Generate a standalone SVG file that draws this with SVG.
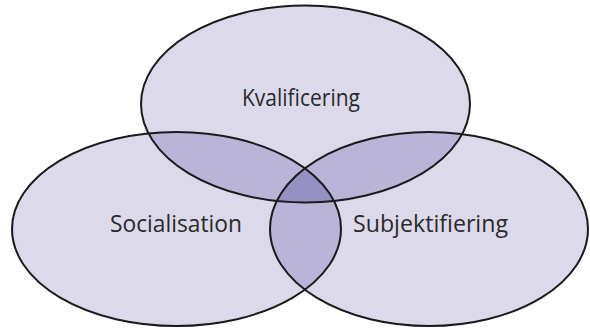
<svg xmlns="http://www.w3.org/2000/svg" width="590" height="328" viewBox="0 0 590 328">
<style>
.base{fill:#dcd9ea}
.two{fill:#bab5d8}
.three{fill:#9591c3}
.edge{fill:none;stroke:#1a1a1a;stroke-width:2}
.lbl{font-family:"Open Sans","DejaVu Sans",sans-serif;font-size:23px;fill:#2a2a2a;text-anchor:start}
</style>
<defs>
<clipPath id="cT"><ellipse cx="305.5" cy="104" rx="164.5" ry="98.5"/></clipPath>
<clipPath id="cL"><ellipse cx="176.5" cy="229" rx="164.5" ry="97"/></clipPath>
<clipPath id="cR"><ellipse cx="429" cy="229" rx="159" ry="97"/></clipPath>
</defs>
<rect width="590" height="328" fill="#ffffff"/>
<g id="fills">
<ellipse class="base" cx="305.5" cy="104" rx="164.5" ry="98.5"/>
<ellipse class="base" cx="176.5" cy="229" rx="164.5" ry="97"/>
<ellipse class="base" cx="429" cy="229" rx="159" ry="97"/>
<g clip-path="url(#cT)">
<ellipse class="two" cx="176.5" cy="229" rx="164.5" ry="97"/>
<ellipse class="two" cx="429" cy="229" rx="159" ry="97"/>
</g>
<g clip-path="url(#cL)">
<ellipse class="two" cx="429" cy="229" rx="159" ry="97"/>
</g>
<g clip-path="url(#cT)"><g clip-path="url(#cL)">
<ellipse class="three" cx="429" cy="229" rx="159" ry="97"/>
</g></g>
</g>
<g id="kvalificering">
<ellipse class="edge" cx="305.5" cy="104" rx="164.5" ry="98.5"/>
<text class="lbl" x="242" y="106" textLength="118" lengthAdjust="spacingAndGlyphs">Kvalificering</text>
</g>
<g id="socialisation">
<ellipse class="edge" cx="176.5" cy="229" rx="164.5" ry="97"/>
<text class="lbl" x="110" y="232" textLength="132" lengthAdjust="spacingAndGlyphs">Socialisation</text>
</g>
<g id="subjektifiering">
<ellipse class="edge" cx="429" cy="229" rx="159" ry="97"/>
<text class="lbl" x="353" y="232" textLength="155" lengthAdjust="spacingAndGlyphs">Subjektifiering</text>
</g>
<g id="connectors"></g>
</svg>
